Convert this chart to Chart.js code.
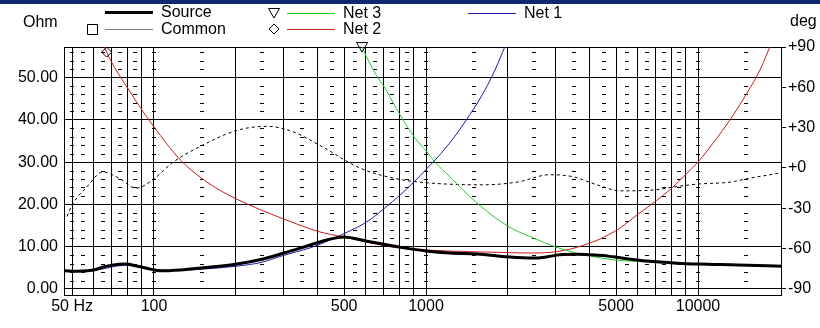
<!DOCTYPE html>
<html>
<head>
<meta charset="utf-8">
<script src="https://cdn.jsdelivr.net/npm/chart.js@4.4.1/dist/chart.umd.min.js"></script>
<style>
  html, body { margin: 0; padding: 0; background: #fff; }
</style>
</head>
<body>
<canvas id="imp" width="820" height="328"></canvas>
<script>
// --- measured curves (frequency in Hz, impedance in ohm, phase in degrees) ---
const sourceFreq = [47, 52, 57, 61, 65, 71, 78, 87, 97, 105, 125, 151, 202, 245, 300, 375, 432, 500, 607, 800, 1000, 1225, 1540, 2000, 2470, 2790, 3100, 3600, 4000, 4480, 4870, 6500, 8400, 10000, 14000, 20400];
const sourceOhm  = [4.3, 4.2, 4.3, 4.6, 5.2, 5.7, 5.9, 5.4, 4.7, 4.3, 4.5, 5.0, 5.9, 6.9, 8.5, 10.4, 11.6, 12.3, 11.3, 9.9, 9.0, 8.5, 8.3, 7.6, 7.3, 7.6, 8.1, 8.2, 8.1, 7.9, 7.6, 6.6, 6.1, 5.9, 5.7, 5.4];

const sourcePhaseFreq = [47.9, 50, 56.7, 64.9, 75, 85.9, 100, 117, 151, 202, 260, 324, 418, 571, 756, 1009, 1620, 2160, 2857, 3470, 4253, 5164, 6832, 8226, 9910, 13110, 15135, 20020];
const sourcePhaseDeg  = [-36, -27.5, -14, -3, -8, -15, -8, 4, 17, 28, 31, 27, 15.5, 0, -7.5, -11, -12.5, -10.5, -5, -6.5, -12.5, -17, -16.4, -14, -12, -10.5, -8, -3.7];

const commonFreq = [];
const commonOhm  = [];

const net1Freq = [47, 60, 78, 87, 100, 125, 151, 202, 225, 245, 298, 374, 401, 444, 504, 607, 701, 809, 903, 1009, 1098, 1256, 1415, 1579, 1719, 1840, 1985, 2100];
const net1Ohm  = [4.2, 4.4, 5.6, 5.3, 4.6, 4.4, 4.7, 5.4, 5.8, 6.2, 7.9, 9.7, 10.4, 11.6, 13.2, 15.9, 19.0, 22.4, 25.3, 28.5, 31.0, 35.5, 40.2, 45.0, 49.3, 53.4, 58.5, 62];

const net2Freq = [60, 67, 70, 80, 91, 100, 125, 151, 175, 202, 245, 298, 350, 401, 496, 607, 756, 1009, 1514, 2018, 2472, 3005, 3470, 4009, 4253, 5164, 5966, 6832, 8090, 9113, 10000, 11360, 13110, 15135, 16900, 18700, 19500];
const net2Ohm  = [63, 56.0, 53.5, 47.5, 42, 38.3, 30.5, 26.0, 23.3, 21.2, 18.8, 16.6, 14.9, 13.6, 12.3, 11.1, 9.9, 9.2, 8.8, 8.6, 8.5, 8.8, 9.6, 10.9, 11.5, 14.4, 17.5, 20.3, 24.1, 27.4, 30.0, 34.5, 40.0, 46.3, 51.8, 58.4, 61];

const net3Freq = [560, 582, 649, 706, 816, 911, 1009, 1079, 1225, 1540, 2018, 2472, 3005, 3470, 3941, 4870, 6494, 8372, 10160, 12360, 14270];
const net3Ohm  = [60, 57.2, 51.1, 47.5, 40.4, 35.7, 32.4, 30.0, 26.5, 20.3, 14.7, 12.1, 9.9, 8.7, 7.9, 6.9, 6.4, 5.9, 5.8, 5.7, 5.6];

// --- axes ---
const xGridFreq  = [50, 60, 70, 80, 90, 100, 200, 300, 400, 500, 600, 700, 800, 900, 1000,
                    2000, 3000, 4000, 5000, 6000, 7000, 8000, 9000, 10000];
const xLabelFreq = [50, 100, 500, 1000, 5000, 10000];
const xLabelText = ['50 Hz', '100', '500', '1000', '5000', '10000'];
const xDashFreq  = [55, 65, 75, 85, 150, 250, 350, 450, 550, 650, 750, 850,
                    1500, 2500, 3500, 4500, 5500, 6500, 7500, 8500, 15000];
const xCrossFreq = [50, 100, 1000, 10000];
const ohmTicks   = [0, 10, 20, 30, 40, 50];
const ohmDashes  = [2, 4, 6, 8, 12, 14, 16, 18, 22, 24, 26, 28, 32, 34, 36, 38,
                    42, 44, 46, 48, 52, 54, 56];
const degTicks   = [-90, -60, -30, 0, 30, 60, 90];

const FONT = '"Liberation Sans", Arial, sans-serif';
const COLORS = {
    source: '#000000',
    common: '#808080',
    net3:   '#2ccc2c',
    net2:   '#c81e1e',
    net1:   '#1c1ca8',
};
const pts = (fs, vs) => fs.map((f, i) => ({ x: f, y: vs[i] }));

function lineSet(label, data, color, width, extra) {
    return Object.assign({
        label,
        data,
        borderColor: color,
        backgroundColor: color,
        borderWidth: width,
        pointRadius: 0,
        fill: false,
        cubicInterpolationMode: 'monotone',
        yAxisID: 'y',
    }, extra || {});
}

const datasets = [
    lineSet('Source', pts(sourceFreq, sourceOhm), COLORS.source, 3, { order: 0 }),
    lineSet('Common', pts(commonFreq, commonOhm), COLORS.common, 1, { order: 1, marker: 'square' }),
    lineSet('Net 3', pts(net3Freq, net3Ohm), COLORS.net3, 1, { order: 2, marker: 'triangle' }),
    lineSet('Net 2', pts(net2Freq, net2Ohm), COLORS.net2, 1, { order: 3, marker: 'diamond' }),
    lineSet('Net 1', pts(net1Freq, net1Ohm), COLORS.net1, 1, { order: 4 }),
    lineSet('Source phase', pts(sourcePhaseFreq, sourcePhaseDeg), COLORS.source, 1,
            { order: 5, yAxisID: 'deg', borderDash: [3, 3] }),
];

// legend rows: dataset index, line start, row centre, marker centre
const legendSlots = [
    { i: 0, x: 105, y: 12, color: COLORS.source, w: 3 },
    { i: 1, x: 105, y: 29, color: COLORS.common, w: 1, mx: 92 },
    { i: 2, x: 287, y: 13, color: COLORS.net3, w: 1, mx: 274 },
    { i: 3, x: 287, y: 29, color: COLORS.net2, w: 1, mx: 274 },
    { i: 4, x: 468, y: 13, color: COLORS.net1, w: 1 },
];

function drawMarker(ctx, kind, cx, cy) {
    ctx.save();
    ctx.setLineDash([]);
    ctx.strokeStyle = '#000';
    ctx.lineWidth = 1;
    ctx.beginPath();
    if (kind === 'triangle') {
        ctx.moveTo(cx - 5.5, cy - 4.5);
        ctx.lineTo(cx + 5.5, cy - 4.5);
        ctx.lineTo(cx, cy + 5);
        ctx.closePath();
    } else if (kind === 'diamond') {
        ctx.moveTo(cx, cy - 5);
        ctx.lineTo(cx + 5, cy);
        ctx.lineTo(cx, cy + 5);
        ctx.lineTo(cx - 5, cy);
        ctx.closePath();
    } else if (kind === 'square') {
        ctx.rect(cx - 4.5, cy - 4.5, 10, 10);
    }
    ctx.stroke();
    ctx.restore();
}

// window strip, dotted sub-grid, frame, markers and the two-row legend
const plotDecor = {
    id: 'plotDecor',
    beforeDraw(chart) {
        const ctx = chart.ctx;
        ctx.save();
        ctx.fillStyle = '#fff';
        ctx.fillRect(0, 0, chart.width, chart.height);
        ctx.fillStyle = '#0c2a6c';
        ctx.fillRect(0, 0, chart.width, 4);
        ctx.restore();
    },
    beforeDatasetsDraw(chart) {
        const { ctx, chartArea: a, scales } = chart;
        ctx.save();
        ctx.fillStyle = '#000';
        [...xDashFreq, ...xCrossFreq].forEach(f => {
            const px = Math.round(scales.x.getPixelForValue(f));
            ohmDashes.forEach(v => {
                const py = Math.round(scales.y.getPixelForValue(v));
                ctx.fillRect(px - 2, py, 4, 1);
            });
        });
        ctx.strokeStyle = '#000';
        ctx.lineWidth = 1;
        ctx.strokeRect(Math.round(a.left) + 0.5, Math.round(a.top) + 0.5,
                       Math.round(a.right - a.left) - 1, Math.round(a.bottom - a.top) - 1);
        ctx.restore();
    },
    afterDatasetsDraw(chart) {
        const { chartArea: a } = chart;
        chart.data.datasets.forEach((ds, i) => {
            if (!ds.marker || !ds.data.length) return;
            const meta = chart.getDatasetMeta(i);
            const idx = ds.data.findIndex(p => p.y <= chart.scales.y.max);
            if (idx < 0) return;
            const el = meta.data[idx];
            drawMarker(chart.ctx, ds.marker, el.x, Math.max(el.y, a.top));
        });
    },
    afterDraw(chart) {
        const ctx = chart.ctx;
        const ds = chart.data.datasets;
        ctx.save();
        ctx.setLineDash([]);
        ctx.font = '16px ' + FONT;
        ctx.textBaseline = 'middle';
        legendSlots.forEach(s => {
            ctx.fillStyle = s.color;
            ctx.fillRect(s.x, s.y - Math.floor(s.w / 2), 48, s.w);
            if (ds[s.i].marker) drawMarker(ctx, ds[s.i].marker, s.mx, s.y);
            ctx.fillStyle = '#000';
            ctx.fillText(ds[s.i].label, s.x + 56, s.y + 1);
        });
        ctx.fillStyle = '#000';
        ctx.fillText('Ohm', 23, 23);
        ctx.fillText('deg', 790, 22);
        ctx.restore();
    },
};

new Chart(document.getElementById('imp'), {
    type: 'line',
    data: { datasets },
    plugins: [plotDecor],
    options: {
        responsive: false,
        animation: false,
        layout: { padding: { top: 47, left: 0, right: 0, bottom: 0 } },
        plugins: { legend: { display: false }, tooltip: { enabled: false } },
        scales: {
            x: {
                type: 'logarithmic',
                position: 'bottom',
                min: 46.68,
                max: 20360,
                afterBuildTicks: s => { s.ticks = xGridFreq.map(v => ({ value: v })); },
                afterFit: s => { s.height = 32; },
                grid: { color: '#000', lineWidth: 1, drawTicks: false },
                border: { display: false },
                ticks: {
                    autoSkip: false,
                    maxRotation: 0,
                    padding: 1,
                    color: '#000',
                    font: { family: FONT, size: 16 },
                    callback: v => {
                        const k = xLabelFreq.indexOf(v);
                        return k >= 0 ? xLabelText[k] : '';
                    },
                },
            },
            y: {
                type: 'linear',
                position: 'left',
                min: -1.655,
                max: 57.21,
                afterBuildTicks: s => { s.ticks = ohmTicks.map(v => ({ value: v })); },
                afterFit: s => { s.width = 64; },
                grid: { color: '#000', lineWidth: 1, drawTicks: false },
                border: { display: false },
                ticks: {
                    padding: 6,
                    color: '#000',
                    font: { family: FONT, size: 16 },
                    callback: v => v.toFixed(2),
                },
            },
            deg: {
                type: 'linear',
                position: 'right',
                min: -95.21,
                max: 90,
                afterBuildTicks: s => { s.ticks = degTicks.map(v => ({ value: v })); },
                afterFit: s => { s.width = 38; },
                grid: { drawOnChartArea: false, drawTicks: true, tickLength: 4, color: '#000' },
                border: { display: false },
                ticks: {
                    padding: 2,
                    color: '#000',
                    font: { family: FONT, size: 16 },
                    callback: v => (v >= 0 ? '+' : '') + v,
                },
            },
        },
    },
});
</script>
</body>
</html>
